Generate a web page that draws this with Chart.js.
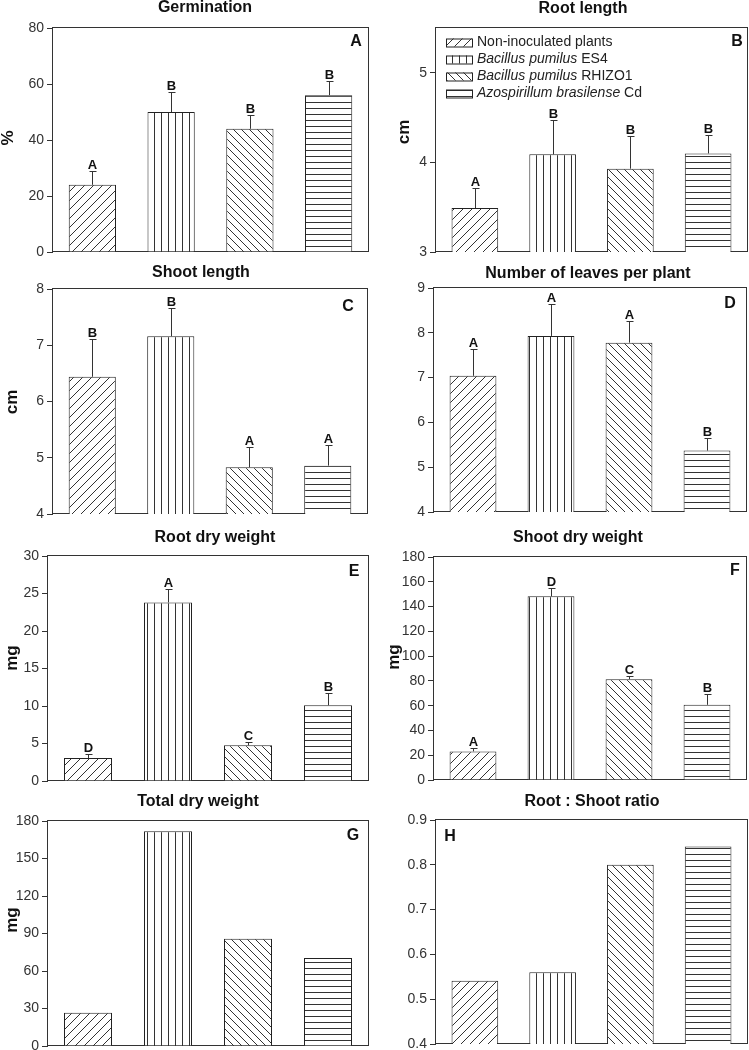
<!DOCTYPE html>
<html>
<head>
<meta charset="utf-8">
<script src="https://cdn.jsdelivr.net/npm/chart.js@4.4.1/dist/chart.umd.min.js"></script>
<style>
  body { margin: 0; width: 749px; height: 1050px; overflow: hidden; background: #fff; position: relative; }
  canvas { position: absolute; }
</style>
</head>
<body>
<canvas id="cA"></canvas>
<canvas id="cB"></canvas>
<canvas id="cC"></canvas>
<canvas id="cD"></canvas>
<canvas id="cE"></canvas>
<canvas id="cF"></canvas>
<canvas id="cG"></canvas>
<canvas id="cH"></canvas>
<script>
// treatments (x categories) and legend text
var treatments = ["Non-inoculated plants", "Bacillus pumilus ES4", "Bacillus pumilus RHIZO1", "Azospirillum brasilense Cd"];
var italicPart = ["", "Bacillus pumilus", "Bacillus pumilus", "Azospirillum brasilense"];

// values
var germination = [24, 50, 44, 56];
var germinationErr = [5, 7, 5, 5];
var germinationLetters = ["A", "B", "B", "B"];
var germinationTicks = [0, 20, 40, 60, 80];

var rootLength = [3.49, 4.09, 3.93, 4.10];
var rootLengthErr = [0.22, 0.38, 0.37, 0.21];
var rootLengthLetters = ["A", "B", "B", "B"];
var rootLengthTicks = [3, 4, 5];

var shootLength = [6.44, 7.16, 4.83, 4.86];
var shootLengthErr = [0.67, 0.5, 0.37, 0.36];
var shootLengthLetters = ["B", "B", "A", "A"];
var shootLengthTicks = [4, 5, 6, 7, 8];

var leaves = [7.04, 7.93, 7.78, 5.37];
var leavesErr = [0.6, 0.72, 0.48, 0.29];
var leavesLetters = ["A", "A", "A", "B"];
var leavesTicks = [4, 5, 6, 7, 8, 9];

var rootDry = [3.07, 23.8, 4.76, 10.1];
var rootDryErr = [0.53, 1.85, 0.4, 1.63];
var rootDryLetters = ["D", "A", "C", "B"];
var rootDryTicks = [0, 5, 10, 15, 20, 25, 30];

var shootDry = [23.1, 148.3, 81.4, 60.7];
var shootDryErr = [2.4, 7, 2.4, 8.9];
var shootDryLetters = ["A", "D", "C", "B"];
var shootDryTicks = [0, 20, 40, 60, 80, 100, 120, 140, 160, 180];

var totalDry = [26.7, 171.8, 85.9, 70.4];
var totalDryTicks = [0, 30, 60, 90, 120, 150, 180];

var ratio = [0.541, 0.56, 0.80, 0.841];
var ratioTicks = [0.4, 0.5, 0.6, 0.7, 0.8, 0.9];

var FONT = "'Liberation Sans', Arial, Helvetica, sans-serif";
Chart.defaults.font.family = FONT;

function hatch(kind) {
  var s = { fwd: 9, back: 8, vert: 7, horiz: 6 }[kind];
  var c = document.createElement("canvas");
  c.width = s;
  c.height = s;
  var g = c.getContext("2d");
  g.fillStyle = "#fff";
  g.fillRect(0, 0, s, s);
  g.strokeStyle = "#333";
  g.lineWidth = 1;
  g.beginPath();
  if (kind == "fwd") {
    g.moveTo(-1, s + 1); g.lineTo(s + 1, -1);
    g.moveTo(-1, 1); g.lineTo(1, -1);
    g.moveTo(s - 1, s + 1); g.lineTo(s + 1, s - 1);
  } else if (kind == "back") {
    g.moveTo(-1, -1); g.lineTo(s + 1, s + 1);
    g.moveTo(s - 1, -1); g.lineTo(s + 1, 1);
    g.moveTo(-1, s - 1); g.lineTo(1, s + 1);
  } else if (kind == "vert") {
    g.moveTo(0.5, 0); g.lineTo(0.5, s);
  } else {
    g.moveTo(0, 0.5); g.lineTo(s, 0.5);
  }
  g.stroke();
  return g.createPattern(c, "repeat");
}
var patterns = [hatch("fwd"), hatch("vert"), hatch("back"), hatch("horiz")];

// page layout of each panel: canvas cell, plot area, text spots
var panels = {
  cA: { cell: [0, 0, 375, 268], area: [53, 28, 368, 252], values: germination, err: germinationErr, letters: germinationLetters,
        ticks: germinationTicks, max: 80, title: "Germination", tx: 205, ty: 8, yTitle: "%", yx: 8, yy: 138, tag: "A", gx: 356, gy: 42 },
  cB: { cell: [375, 0, 374, 268], area: [436, 28, 747, 252], values: rootLength, err: rootLengthErr, letters: rootLengthLetters,
        ticks: rootLengthTicks, max: 5.5, title: "Root length", tx: 583, ty: 9, yTitle: "cm", yx: 404, yy: 132, tag: "B", gx: 737, gy: 42, legend: true },
  cC: { cell: [0, 262, 375, 268], area: [53, 289, 367, 514], values: shootLength, err: shootLengthErr, letters: shootLengthLetters,
        ticks: shootLengthTicks, max: 8, title: "Shoot length", tx: 201, ty: 273, yTitle: "cm", yx: 12, yy: 402, tag: "C", gx: 348, gy: 307 },
  cD: { cell: [375, 262, 374, 268], area: [434, 288, 746, 512], values: leaves, err: leavesErr, letters: leavesLetters,
        ticks: leavesTicks, max: 9, title: "Number of leaves per plant", tx: 588, ty: 274, tag: "D", gx: 730, gy: 304 },
  cE: { cell: [0, 524, 375, 272], area: [48, 556, 368, 781], values: rootDry, err: rootDryErr, letters: rootDryLetters,
        ticks: rootDryTicks, max: 30, title: "Root dry weight", tx: 215, ty: 538, yTitle: "mg", yx: 12, yy: 658, tag: "E", gx: 354, gy: 572 },
  cF: { cell: [375, 524, 374, 272], area: [434, 557, 746, 780], values: shootDry, err: shootDryErr, letters: shootDryLetters,
        ticks: shootDryTicks, max: 180, title: "Shoot dry weight", tx: 578, ty: 538, yTitle: "mg", yx: 394, yy: 657, tag: "F", gx: 735, gy: 571 },
  cG: { cell: [0, 788, 375, 275], area: [48, 821, 368, 1046], values: totalDry,
        ticks: totalDryTicks, max: 180, title: "Total dry weight", tx: 198, ty: 802, yTitle: "mg", yx: 12, yy: 920, tag: "G", gx: 353, gy: 836 },
  cH: { cell: [375, 788, 374, 275], area: [436, 820, 747, 1044], values: ratio,
        ticks: ratioTicks, max: 0.9, decimals: 1, title: "Root : Shoot ratio", tx: 592, ty: 802, tag: "H", gx: 450, gy: 837 }
};

function drawLegend(ctx, ox, oy) {
  ctx.save();
  ctx.textBaseline = "middle";
  ctx.fillStyle = "#222";
  treatments.forEach(function (name, i) {
    var cy = 42.5 + i * 17 - oy;
    var sx = 446 - ox;
    ctx.fillStyle = patterns[i];
    ctx.fillRect(sx, cy - 4, 26, 8);
    ctx.strokeStyle = "#222";
    ctx.lineWidth = 1;
    ctx.strokeRect(sx + 0.5, cy - 4 + 0.5, 26, 8);
    ctx.fillStyle = "#222";
    var x = 477 - ox;
    var it = italicPart[i];
    if (it) {
      ctx.font = "italic 14px " + FONT;
      ctx.fillText(it, x, cy);
      x += ctx.measureText(it).width;
    }
    ctx.font = "14px " + FONT;
    ctx.fillText(name.slice(it.length), x, cy);
  });
  ctx.restore();
}

var panelPlugin = {
  id: "panel",
  beforeDatasetsDraw: function (chart) {
    var a = chart.chartArea, ctx = chart.ctx;
    ctx.save();
    ctx.strokeStyle = "#333";
    ctx.lineWidth = 1;
    ctx.strokeRect(a.left - 0.5, a.top - 0.5, a.right - a.left + 1, a.bottom - a.top);
    ctx.restore();
  },
  afterDatasetsDraw: function (chart) {
    var p = panels[chart.canvas.id];
    if (!p.err) return;
    var ctx = chart.ctx, y = chart.scales.y;
    var bars = chart.getDatasetMeta(0).data;
    ctx.save();
    ctx.strokeStyle = "#333";
    ctx.lineWidth = 1;
    ctx.fillStyle = "#111";
    ctx.font = "bold 13px " + FONT;
    ctx.textAlign = "center";
    ctx.textBaseline = "alphabetic";
    bars.forEach(function (bar, i) {
      var top = Math.round(y.getPixelForValue(p.values[i] + p.err[i])) + 0.5;
      var x = Math.round(bar.x) + 0.5;
      ctx.beginPath();
      ctx.moveTo(x, bar.y);
      ctx.lineTo(x, top);
      ctx.moveTo(x - 3, top);
      ctx.lineTo(x + 4, top);
      ctx.stroke();
      ctx.fillText(p.letters[i], x, top - 3);
    });
    ctx.restore();
  },
  afterDraw: function (chart) {
    var p = panels[chart.canvas.id];
    var ctx = chart.ctx, ox = p.cell[0], oy = p.cell[1];
    ctx.save();
    ctx.fillStyle = "#111";
    ctx.textAlign = "center";
    ctx.textBaseline = "middle";
    ctx.font = "bold 16px " + FONT;
    ctx.fillText(p.title, p.tx - ox, p.ty - oy);
    ctx.fillText(p.tag, p.gx - ox, p.gy - oy);
    if (p.yTitle) {
      ctx.save();
      ctx.translate(p.yx - ox, p.yy - oy);
      ctx.rotate(-Math.PI / 2);
      ctx.font = "bold 17px " + FONT;
      ctx.fillText(p.yTitle, 0, 0);
      ctx.restore();
    }
    ctx.restore();
    if (p.legend) drawLegend(ctx, ox, oy);
  }
};
Chart.register(panelPlugin);

function makePanel(id) {
  var p = panels[id];
  var canvas = document.getElementById(id);
  canvas.width = p.cell[2];
  canvas.height = p.cell[3];
  canvas.style.left = p.cell[0] + "px";
  canvas.style.top = p.cell[1] + "px";
  var axisWidth = p.area[0] - p.cell[0];
  var tickValues = p.ticks;
  return new Chart(canvas, {
    type: "bar",
    data: {
      labels: treatments,
      datasets: [{
        data: p.values,
        backgroundColor: patterns,
        borderColor: "#222",
        borderWidth: 1,
        barPercentage: 0.6,
        categoryPercentage: 1
      }]
    },
    options: {
      responsive: false,
      animation: false,
      layout: {
        padding: {
          left: 0,
          top: p.area[1] - p.cell[1],
          right: p.cell[0] + p.cell[2] - p.area[2],
          bottom: p.cell[1] + p.cell[3] - p.area[3]
        }
      },
      plugins: { legend: { display: false }, tooltip: { enabled: false } },
      scales: {
        x: { display: false },
        y: {
          min: tickValues[0],
          max: p.max,
          afterBuildTicks: function (s) {
            s.ticks = tickValues.map(function (v) { return { value: v }; });
          },
          afterFit: function (s) { s.width = axisWidth; },
          ticks: {
            color: "#333",
            font: { size: 14 },
            padding: 3,
            callback: function (v) { return p.decimals ? v.toFixed(p.decimals) : String(v); }
          },
          grid: { drawOnChartArea: false, tickLength: 6, color: "#333" },
          border: { display: false }
        }
      }
    }
  });
}

Object.keys(panels).forEach(makePanel);
</script>
</body>
</html>
